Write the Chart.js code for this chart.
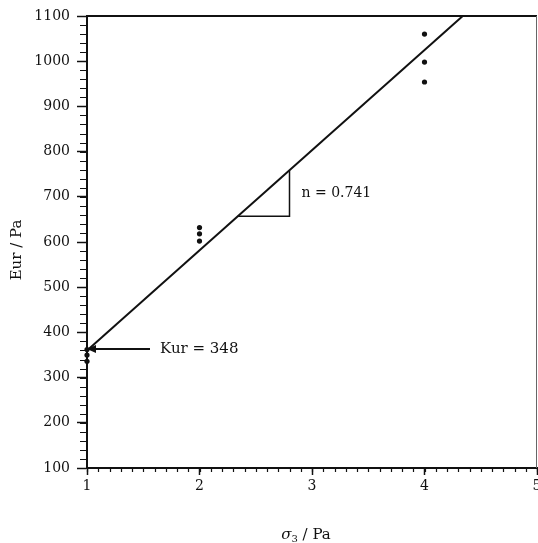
<!DOCTYPE html>
<html>
<head>
<meta charset="utf-8">
<title>Eur vs sigma3</title>
<script src="https://cdn.jsdelivr.net/npm/chart.js@4.4.0/dist/chart.umd.min.js"></script>
<style>
  html, body { margin: 0; padding: 0; background: #fff; }
  canvas { display: block; }
</style>
</head>
<body>
<canvas id="chart" width="538" height="543"></canvas>
<script>
// measured points: confining stress vs unloading-reloading modulus
const sigma3 = [1, 1, 1, 2, 2, 2, 4, 4, 4];
const eur = [336, 350, 362, 602, 618, 632, 954, 998, 1060];

// fitted line end points
const fitX = [1, 4.34];
const fitY = [360, 1100];

// slope triangle
const slopeX = [2.34, 2.80, 2.80];
const slopeY = [657, 657, 758];

// Kur pointer
const kurX = [1.56, 1.0];
const kurY = [363, 363];

// axes
const xRange = [1, 5];
const yRange = [100, 1100];
const xMinorStep = 0.1;
const yMinorStep = 20;

const SERIF = '"DejaVu Serif", "Liberation Serif", serif';
const INK = '#111';

const toXY = (xs, ys) => xs.map((x, i) => ({ x, y: ys[i] }));

// let the plot run to the right edge; the last x label gets clipped there
const fullWidth = {
  id: 'fullWidth',
  afterLayout(chart) {
    const x = chart.scales.x;
    const right = chart.width - 1;
    chart.chartArea.right = right;
    chart.chartArea.width = right - chart.chartArea.left;
    x.right = right;
    x.width = right - x.left;
    x.configure();
  }
};

// minor ticks, frame, titles and labels
const extras = {
  id: 'extras',
  afterDraw(chart) {
    const { ctx, chartArea: a, scales: { x, y } } = chart;
    ctx.save();
    ctx.strokeStyle = INK;

    // minor ticks
    ctx.lineWidth = 1.2;
    ctx.beginPath();
    for (let v = xRange[0]; v <= xRange[1] + 1e-9; v += xMinorStep) {
      const px = Math.round(x.getPixelForValue(v)) + 0.5;
      ctx.moveTo(px, a.bottom);
      ctx.lineTo(px, a.bottom + 4);
    }
    for (let v = yRange[0]; v <= yRange[1] + 1e-9; v += yMinorStep) {
      const py = Math.round(y.getPixelForValue(v)) + 0.5;
      ctx.moveTo(a.left, py);
      ctx.lineTo(a.left - 7, py);
    }
    ctx.stroke();

    // frame: top and right
    ctx.lineWidth = 2;
    ctx.beginPath();
    ctx.moveTo(a.left, a.top);
    ctx.lineTo(a.right, a.top);
    ctx.stroke();
    ctx.lineWidth = 1;
    ctx.strokeStyle = '#666';
    ctx.beginPath();
    ctx.moveTo(a.right - 0.5, a.top);
    ctx.lineTo(a.right - 0.5, a.bottom);
    ctx.stroke();

    // arrow head at the Kur pointer
    const hx = x.getPixelForValue(kurX[1]);
    const hy = y.getPixelForValue(kurY[1]);
    ctx.fillStyle = INK;
    ctx.beginPath();
    ctx.moveTo(hx, hy);
    ctx.lineTo(hx + 9, hy - 4);
    ctx.lineTo(hx + 9, hy + 4);
    ctx.closePath();
    ctx.fill();

    // annotation texts
    ctx.fillStyle = INK;
    ctx.textBaseline = 'middle';
    ctx.textAlign = 'left';
    ctx.font = '15px ' + SERIF;
    ctx.fillText('Kur = 348', x.getPixelForValue(kurX[0]) + 10, hy);
    ctx.font = '14px ' + SERIF;
    ctx.fillText('n = 0.741', x.getPixelForValue(slopeX[1]) + 12,
      (y.getPixelForValue(slopeY[0]) + y.getPixelForValue(slopeY[2])) / 2);

    // y title
    ctx.save();
    ctx.translate(17, (a.top + a.bottom) / 2 + 8);
    ctx.rotate(-Math.PI / 2);
    ctx.textAlign = 'center';
    ctx.font = '15px ' + SERIF;
    ctx.fillText('Eur / Pa', 0, 0);
    ctx.restore();

    // x title with subscript
    const parts = [
      { t: 'σ', f: 'italic 15px ' + SERIF, dy: 0 },
      { t: '3', f: '10px ' + SERIF, dy: 4 },
      { t: ' / Pa', f: '15px ' + SERIF, dy: 0 }
    ];
    let w = 0;
    parts.forEach(p => { ctx.font = p.f; w += ctx.measureText(p.t).width; });
    let tx = (a.left + a.right) / 2 - w / 2 - 6;
    const ty = 535;
    parts.forEach(p => {
      ctx.font = p.f;
      ctx.fillText(p.t, tx, ty + p.dy);
      tx += ctx.measureText(p.t).width;
    });

    ctx.restore();
  }
};

new Chart(document.getElementById('chart'), {
  type: 'scatter',
  data: {
    datasets: [
      {
        label: 'measured',
        data: toXY(sigma3, eur),
        pointStyle: 'circle',
        pointRadius: 2.6,
        backgroundColor: INK,
        borderWidth: 0,
        clip: false
      },
      {
        label: 'fit',
        type: 'line',
        data: toXY(fitX, fitY),
        borderColor: INK,
        borderWidth: 2,
        pointRadius: 0,
        fill: false,
        clip: false
      },
      {
        label: 'slope',
        type: 'line',
        data: toXY(slopeX, slopeY),
        borderColor: INK,
        borderWidth: 1.5,
        pointRadius: 0,
        fill: false
      },
      {
        label: 'kur',
        type: 'line',
        data: toXY(kurX, kurY),
        borderColor: INK,
        borderWidth: 2,
        pointRadius: 0,
        fill: false,
        clip: false
      }
    ]
  },
  options: {
    responsive: false,
    animation: false,
    devicePixelRatio: 1,
    layout: { padding: { top: 16, right: 1, left: 0, bottom: 0 } },
    plugins: {
      legend: { display: false },
      tooltip: { enabled: false }
    },
    scales: {
      x: {
        type: 'linear',
        min: xRange[0],
        max: xRange[1],
        ticks: {
          stepSize: 1,
          color: INK,
          padding: 3,
          font: { family: SERIF, size: 14 },
          callback: v => String(v)
        },
        grid: { drawOnChartArea: false, tickLength: 7, tickWidth: 1.5, tickColor: INK },
        border: { color: INK, width: 2 },
        afterFit(s) { s.height = 75; }
      },
      y: {
        type: 'linear',
        min: yRange[0],
        max: yRange[1],
        ticks: {
          stepSize: 100,
          color: INK,
          padding: 7,
          font: { family: SERIF, size: 14 },
          callback: v => String(v)
        },
        grid: { drawOnChartArea: false, tickLength: 10, tickWidth: 1.5, tickColor: INK },
        border: { color: INK, width: 2 },
        afterFit(s) { s.width = 87; }
      }
    }
  },
  plugins: [fullWidth, extras]
});
</script>
</body>
</html>
